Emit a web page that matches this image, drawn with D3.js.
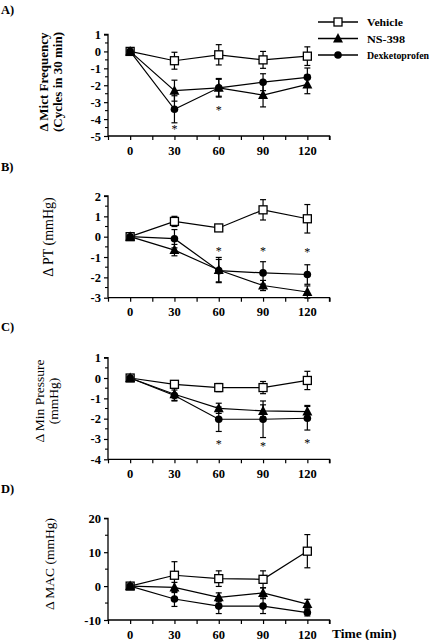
<!DOCTYPE html>
<html><head><meta charset="utf-8">
<script src="https://cdn.jsdelivr.net/npm/d3@7"></script>
<style>
html,body{margin:0;padding:0;background:#fff;}
svg{display:block;}
svg text{font-family:"Liberation Serif","DejaVu Serif",serif !important;fill:#000;}
</style></head>
<body>
<script>
// ---- data ----
const times = [0, 30, 60, 90, 120];
const xTickLabels = ["0", "30", "60", "90", "120"];
const seriesNames = ["Vehicle", "NS-398", "Dexketoprofen"];

// Panel A: Δ Mict Frequency
const aVehicle = [0, -0.55, -0.2, -0.5, -0.28];
const aVehicleErr = [0, 0.5, 0.6, 0.5, 0.55];
const aNS = [0, -2.32, -2.15, -2.58, -1.95];
const aNSErr = [0, 0.62, 0.55, 0.7, 0.55];
const aDex = [0, -3.42, -2.15, -1.82, -1.53];
const aDexErr = [0, 0.8, 0.5, 0.5, 0.55];
const aStars = [[30, -4.55], [60, -3.4]];
const aTicks = [1, 0, -1, -2, -3, -4, -5];

// Panel B: Δ PT
const bVehicle = [0, 0.75, 0.43, 1.32, 0.88];
const bVehicleErr = [0, 0.25, 0.06, 0.5, 0.7];
const bNS = [0, -0.66, -1.64, -2.4, -2.72];
const bNSErr = [0, 0.28, 0.62, 0.25, 0.3];
const bDex = [0, -0.1, -1.67, -1.78, -1.86];
const bDexErr = [0, 0.45, 0.55, 0.55, 0.48];
const bStars = [[60, -0.65], [90, -0.65], [120, -0.7]];
const bTicks = [2, 1, 0, -1, -2, -3];

// Panel C: Δ Min Pressure
const cVehicle = [0, -0.31, -0.47, -0.47, -0.12];
const cVehicleErr = [0, 0.15, 0.2, 0.3, 0.45];
const cNS = [0, -0.8, -1.49, -1.62, -1.65];
const cNSErr = [0, 0.3, 0.25, 0.3, 0.3];
const cDex = [0, -0.86, -2.03, -2.03, -1.98];
const cDexErr = [0, 0.27, 0.6, 0.9, 0.58];
const cStars = [[60, -3.2], [90, -3.3], [120, -3.15]];
const cTicks = [1, 0, -1, -2, -3, -4];

// Panel D: Δ MAC
const dVehicle = [0, 3.2, 2.2, 2.0, 10.3];
const dVehicleErr = [0, 4.0, 2.3, 2.5, 4.9];
const dNS = [0, -0.4, -3.3, -2.0, -5.3];
const dNSErr = [0, 1.5, 1.3, 1.5, 1.4];
const dDex = [0, -3.8, -5.9, -5.9, -7.8];
const dDexErr = [0, 2.2, 2.2, 2.2, 1.0];
const dStars = [];
const dTicks = [20, 10, 0, -10];

// ---- layout ----
const W = 433, H = 640;
const FONT = '"Liberation Serif","DejaVu Serif",serif';
const svg = d3.select("body").append("svg").attr("width", W).attr("height", H)
  .attr("font-family", FONT);

const x = d3.scaleLinear().domain([-15, 135]).range([108, 329.5]);
const xMinor = d3.range(-15, 136, 15);

const panels = [
  {letter: "A)", letterY: 14, top: 34.5, bottom: 136, domain: [-5, 1], ticks: aTicks, minor: 0.5,
   series: [aVehicle, aNS, aDex], errs: [aVehicleErr, aNSErr, aDexErr], stars: aStars,
   label: ["Δ Mict Frequency", "(Cycles in 30 min)"], labelX: [48, 62], labelY: 82, labelBold: true, labelSize: 13},
  {letter: "B)", letterY: 171, top: 196, bottom: 297.7, domain: [-3, 2], ticks: bTicks, minor: 0.5,
   series: [bVehicle, bNS, bDex], errs: [bVehicleErr, bNSErr, bDexErr], stars: bStars,
   label: ["Δ PT (mmHg)"], labelX: [53], labelY: 237, labelBold: false, labelSize: 14},
  {letter: "C)", letterY: 331, top: 357.7, bottom: 459.3, domain: [-4, 1], ticks: cTicks, minor: 0.5,
   series: [cVehicle, cNS, cDex], errs: [cVehicleErr, cNSErr, cDexErr], stars: cStars,
   label: ["Δ Min Pressure", "(mmHg)"], labelX: [44, 58], labelY: 401, labelBold: false, labelSize: 13.5},
  {letter: "D)", letterY: 493, top: 518.3, bottom: 620, domain: [-10, 20], ticks: dTicks, minor: 5,
   series: [dVehicle, dNS, dDex], errs: [dVehicleErr, dNSErr, dDexErr], stars: dStars,
   label: ["Δ MAC (mmHg)"], labelX: [54], labelY: 564, labelBold: false, labelSize: 13.5}
];

function drawMarker(g, kind, cx, cy) {
  if (kind === 0) {
    g.append("rect").attr("x", cx - 4).attr("y", cy - 4).attr("width", 8).attr("height", 8)
      .attr("fill", "#fff").attr("stroke", "#000").attr("stroke-width", 1.3);
  } else if (kind === 1) {
    g.append("path").attr("d", `M${cx},${cy - 5.5}L${cx + 5},${cy + 4}L${cx - 5},${cy + 4}Z`).attr("fill", "#000");
  } else {
    g.append("circle").attr("cx", cx).attr("cy", cy).attr("r", 3.8).attr("fill", "#000");
  }
}

panels.forEach(p => {
  const g = svg.append("g");
  const y = d3.scaleLinear().domain(p.domain).range([p.bottom, p.top]);

  g.append("text").attr("x", 1).attr("y", p.letterY).attr("font-weight", "bold").attr("font-size", 12.5).text(p.letter);

  // y axis
  const yAxis = d3.axisLeft(y).tickValues(p.ticks).tickSize(4).tickPadding(3).tickFormat(d3.format("d"));
  const ya = g.append("g").attr("transform", `translate(${x.range()[0]},0)`).call(yAxis);
  ya.attr("font-family", FONT);
  ya.select(".domain").attr("stroke-width", 1.3).attr("d", `M-4,${p.top}H0V${p.bottom}`);
  ya.selectAll(".tick line").attr("stroke-width", 1.2);
  ya.selectAll(".tick text").attr("font-weight", "bold").attr("font-size", 12.5)
    .text(d => d < 0 ? "-" + Math.abs(d) : d);
  const minorVals = d3.range(p.domain[0], p.domain[1] + 1e-9, p.minor).filter(v => !p.ticks.includes(v));
  g.selectAll(".ymin").data(minorVals).enter().append("line")
    .attr("x1", x.range()[0] - 3).attr("x2", x.range()[0]).attr("y1", d => y(d)).attr("y2", d => y(d))
    .attr("stroke", "#000").attr("stroke-width", 1.1);

  // x axis
  const xAxis = d3.axisBottom(x).tickValues(xMinor).tickSize(4).tickFormat("");
  const xa = g.append("g").attr("transform", `translate(0,${p.bottom})`).call(xAxis);
  xa.select(".domain").attr("stroke-width", 1.3).attr("d", `M${x.range()[0]},0H${x.range()[1]}V4`);
  xa.selectAll(".tick line").attr("stroke-width", 1.2);
  g.selectAll(".xl").data(times).enter().append("text")
    .attr("x", d => x(d)).attr("y", p.bottom + 18.5).attr("text-anchor", "middle")
    .attr("font-weight", "bold").attr("font-size", 12.5).text((d, i) => xTickLabels[i]);

  // y label
  p.label.forEach((t, i) => {
    g.append("text").attr("transform", `translate(${p.labelX[i]},${p.labelY}) rotate(-90)`)
      .attr("text-anchor", "middle").attr("font-weight", p.labelBold ? "bold" : "normal")
      .attr("font-size", p.labelSize).text(t);
  });

  // lines
  const line = d3.line().x((d, i) => x(times[i])).y(d => y(d));
  p.series.forEach(s => {
    g.append("path").attr("d", line(s)).attr("fill", "none").attr("stroke", "#000").attr("stroke-width", 1.2);
  });
  // error bars
  p.series.forEach((s, k) => {
    s.forEach((v, i) => {
      const e = p.errs[k][i];
      if (!e) return;
      const cx = x(times[i]);
      const y1 = y(v + e), y2 = y(v - e);
      g.append("line").attr("x1", cx).attr("x2", cx).attr("y1", y1).attr("y2", y2).attr("stroke", "#000").attr("stroke-width", 1.2);
      [y1, y2].forEach(yy => g.append("line").attr("x1", cx - 3).attr("x2", cx + 3).attr("y1", yy).attr("y2", yy)
        .attr("stroke", "#000").attr("stroke-width", 1.2));
    });
  });
  // markers
  p.series.forEach((s, k) => {
    s.forEach((v, i) => drawMarker(g, k, x(times[i]), y(v)));
  });
  // significance stars
  p.stars.forEach(st => {
    g.append("text").attr("x", x(st[0])).attr("y", y(st[1]) + 5).attr("text-anchor", "middle")
      .attr("font-size", 12).text("*");
  });
});

// time label
svg.append("text").attr("x", 332).attr("y", 638).attr("font-weight", "bold").attr("font-size", 13.5).text("Time  (min)");

// legend
const leg = svg.append("g");
const legY = [22, 38.5, 55];
const legW = [36, 38, 62];
seriesNames.forEach((n, k) => {
  leg.append("line").attr("x1", 318).attr("x2", 358).attr("y1", legY[k]).attr("y2", legY[k]).attr("stroke", "#000").attr("stroke-width", 1.3);
  drawMarker(leg, k, 338, legY[k]);
  leg.append("text").attr("x", 367).attr("y", legY[k] + 4).attr("font-weight", "bold").attr("font-size", 10.2)
    .attr("textLength", legW[k]).attr("lengthAdjust", "spacingAndGlyphs").text(n);
});
</script>
</body></html>
